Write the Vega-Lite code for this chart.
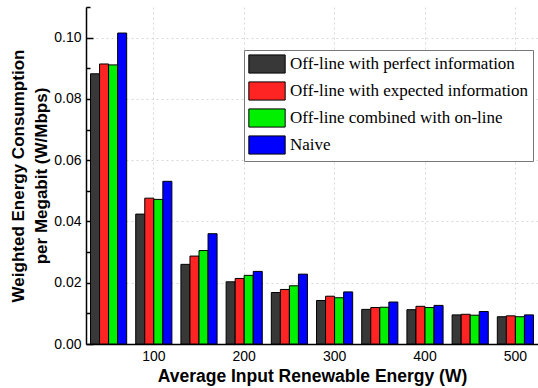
{
  "$schema": "https://vega.github.io/schema/vega-lite/v6.json",
  "width": 452,
  "height": 337,
  "autosize": {"type": "none"},
  "padding": {"left": 86, "top": 7, "right": 0, "bottom": 44},
  "background": "white",
  "config": {
    "view": {"stroke": null},
    "font": "Liberation Sans"
  },
  "data": {
    "values": [
      {"e": 50, "m": "Off-line with perfect information", "v": 0.0882},
      {"e": 50, "m": "Off-line with expected information", "v": 0.0914},
      {"e": 50, "m": "Off-line combined with on-line", "v": 0.0911},
      {"e": 50, "m": "Naive", "v": 0.1015},
      {"e": 100, "m": "Off-line with perfect information", "v": 0.0424},
      {"e": 100, "m": "Off-line with expected information", "v": 0.0476},
      {"e": 100, "m": "Off-line combined with on-line", "v": 0.0472},
      {"e": 100, "m": "Naive", "v": 0.0531},
      {"e": 150, "m": "Off-line with perfect information", "v": 0.0260},
      {"e": 150, "m": "Off-line with expected information", "v": 0.0287},
      {"e": 150, "m": "Off-line combined with on-line", "v": 0.0305},
      {"e": 150, "m": "Naive", "v": 0.0360},
      {"e": 200, "m": "Off-line with perfect information", "v": 0.0203},
      {"e": 200, "m": "Off-line with expected information", "v": 0.0214},
      {"e": 200, "m": "Off-line combined with on-line", "v": 0.0224},
      {"e": 200, "m": "Naive", "v": 0.0237},
      {"e": 250, "m": "Off-line with perfect information", "v": 0.0168},
      {"e": 250, "m": "Off-line with expected information", "v": 0.0178},
      {"e": 250, "m": "Off-line combined with on-line", "v": 0.0190},
      {"e": 250, "m": "Naive", "v": 0.0228},
      {"e": 300, "m": "Off-line with perfect information", "v": 0.0142},
      {"e": 300, "m": "Off-line with expected information", "v": 0.0156},
      {"e": 300, "m": "Off-line combined with on-line", "v": 0.0151},
      {"e": 300, "m": "Naive", "v": 0.0170},
      {"e": 350, "m": "Off-line with perfect information", "v": 0.0113},
      {"e": 350, "m": "Off-line with expected information", "v": 0.0119},
      {"e": 350, "m": "Off-line combined with on-line", "v": 0.0120},
      {"e": 350, "m": "Naive", "v": 0.0137},
      {"e": 400, "m": "Off-line with perfect information", "v": 0.0112},
      {"e": 400, "m": "Off-line with expected information", "v": 0.0123},
      {"e": 400, "m": "Off-line combined with on-line", "v": 0.0119},
      {"e": 400, "m": "Naive", "v": 0.0126},
      {"e": 450, "m": "Off-line with perfect information", "v": 0.0095},
      {"e": 450, "m": "Off-line with expected information", "v": 0.0097},
      {"e": 450, "m": "Off-line combined with on-line", "v": 0.0094},
      {"e": 450, "m": "Naive", "v": 0.0106},
      {"e": 500, "m": "Off-line with perfect information", "v": 0.0089},
      {"e": 500, "m": "Off-line with expected information", "v": 0.0092},
      {"e": 500, "m": "Off-line combined with on-line", "v": 0.0089},
      {"e": 500, "m": "Naive", "v": 0.0095}
    ]
  },
  "mark": {"type": "bar", "stroke": "#000000", "strokeWidth": 1},
  "encoding": {
    "x": {
      "field": "e",
      "type": "ordinal",
      "scale": {"paddingInner": 0.2, "paddingOuter": 0.1},
      "axis": {
        "title": "Average Input Renewable Energy (W)",
        "titleFontSize": 17.5,
        "titleFontWeight": "bold",
        "titleColor": "#000",
        "titlePadding": 4,
        "labelAngle": 0,
        "labelFontSize": 14,
        "labelColor": "#000",
        "labelPadding": 9,
        "labelExpr": "datum.value % 100 == 0 ? datum.label : ''",
        "tickSize": -4,
        "tickColor": "#000",
        "domainColor": "#000",
        "domainWidth": 1.5,
        "grid": true,
        "gridColor": "#d8d8d8",
        "gridDash": [2, 3],
        "gridOpacity": {"condition": {"test": "datum.value % 100 == 0", "value": 1}, "value": 0}
      }
    },
    "xOffset": {
      "field": "m",
      "type": "nominal",
      "sort": ["Off-line with perfect information", "Off-line with expected information", "Off-line combined with on-line", "Naive"]
    },
    "y": {
      "field": "v",
      "type": "quantitative",
      "scale": {"domain": [0, 0.11], "nice": false},
      "axis": {
        "title": ["Weighted Energy Consumption", "per Megabit (W/Mbps)"],
        "titleFontSize": 17,
        "titleFontWeight": "bold",
        "titleColor": "#000",
        "titleLineHeight": 23,
        "titlePadding": 3,
        "values": [0, 0.01, 0.02, 0.03, 0.04, 0.05, 0.06, 0.07, 0.08, 0.09, 0.1, 0.11],
        "labelExpr": "round(datum.value*100) % 2 == 0 ? format(datum.value, '.2f') : ''",
        "labelFontSize": 14,
        "labelColor": "#000",
        "labelPadding": 12,
        "tickColor": "#000",
        "tickWidth": 1.5,
        "tickSize": {"condition": {"test": "round(datum.value*100) % 2 == 0", "value": -7}, "value": -4},
        "domainColor": "#000",
        "domainWidth": 1.5,
        "grid": true,
        "gridColor": "#d8d8d8",
        "gridDash": [2, 3],
        "gridOpacity": {"condition": {"test": "round(datum.value*100) % 2 == 0 && datum.value > 0", "value": 1}, "value": 0}
      }
    },
    "color": {
      "field": "m",
      "type": "nominal",
      "scale": {
        "domain": ["Off-line with perfect information", "Off-line with expected information", "Off-line combined with on-line", "Naive"],
        "range": ["#383838", "#ff2424", "#00f000", "#0000ff"]
      },
      "legend": {
        "title": null,
        "orient": "none",
        "legendX": 158,
        "legendY": 43,
        "fillColor": "white",
        "strokeColor": "#777777",
        "padding": 4,
        "labelFont": "Liberation Serif",
        "labelFontSize": 17,
        "labelColor": "#000",
        "labelLimit": 400,
        "labelOffset": 13,
        "symbolOffset": 9,
        "rowPadding": 3,
        "symbolType": "M-2,-1H2V1H-2Z",
        "symbolSize": 330,
        "symbolStrokeColor": "#000",
        "symbolStrokeWidth": 1,
        "symbolOpacity": 1
      }
    }
  }
}
